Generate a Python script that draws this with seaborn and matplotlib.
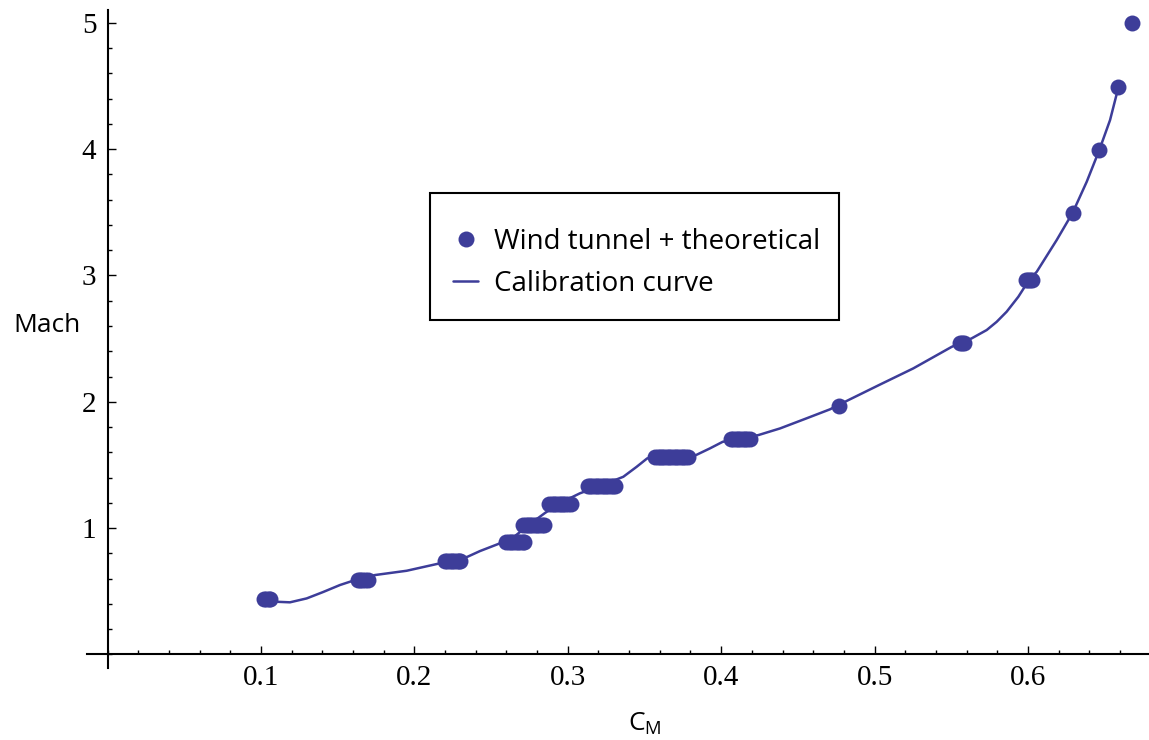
import matplotlib
matplotlib.use("Agg")
import matplotlib.pyplot as plt
from matplotlib.lines import Line2D
from matplotlib.patches import Rectangle
from matplotlib.ticker import FixedLocator, MultipleLocator
import pandas as pd
import seaborn as sns

# Calibration runs: each group shares one Mach number, with several C_M readings
run_mach = [0.438, 0.588, 0.739, 0.892, 1.028, 1.194, 1.336, 1.560,
            1.705, 1.966, 2.462, 2.964, 3.496, 3.993, 4.494, 4.996]
run_cm = [
    [0.102, 0.1035, 0.105, 0.106],
    [0.163, 0.1645, 0.166, 0.1675, 0.1695],
    [0.220, 0.2215, 0.223, 0.2245, 0.226, 0.2275, 0.229, 0.230],
    [0.260, 0.2615, 0.263, 0.2645, 0.266, 0.2675, 0.269, 0.2705, 0.2715],
    [0.271, 0.2725, 0.274, 0.2755, 0.277, 0.2785, 0.280, 0.2815, 0.283, 0.2845],
    [0.288, 0.2895, 0.291, 0.2925, 0.294, 0.2955, 0.297, 0.2985, 0.300, 0.302],
    [0.313, 0.3145, 0.316, 0.3175, 0.319, 0.3205, 0.322, 0.3235, 0.325,
     0.3265, 0.328, 0.3295, 0.331],
    [0.357, 0.3585, 0.360, 0.3615, 0.363, 0.3645, 0.366, 0.3675, 0.369,
     0.3705, 0.372, 0.3735, 0.375, 0.3765, 0.3785],
    [0.4065, 0.408, 0.4095, 0.411, 0.4125, 0.414, 0.4155, 0.417, 0.4185],
    [0.4768],
    [0.5557, 0.557, 0.5583],
    [0.5987, 0.600, 0.6013, 0.6026],
    [0.6291],
    [0.6465],
    [0.6585],
    [0.6676],
]

# Calibration curve samples (C_M, Mach)
curve_cm = [0.1026, 0.1111, 0.1189, 0.1298, 0.1404, 0.1515, 0.1600, 0.1743,
            0.1950, 0.2145, 0.2245, 0.2347, 0.2428, 0.2545, 0.2656, 0.2754,
            0.2851, 0.2949, 0.3079, 0.3209, 0.3362, 0.3449, 0.3518, 0.3666,
            0.3836, 0.3927, 0.4010, 0.4122, 0.4242, 0.4384, 0.4557, 0.4709,
            0.4829, 0.5035, 0.5252, 0.5503, 0.5633, 0.5731, 0.5796, 0.5861,
            0.5937, 0.6007, 0.6057, 0.6187, 0.6291, 0.6383, 0.6465, 0.6535,
            0.6585, 0.6593]
curve_mach = [0.438, 0.416, 0.412, 0.443, 0.493, 0.549, 0.583, 0.628,
              0.662, 0.715, 0.739, 0.773, 0.818, 0.873, 0.937, 1.032,
              1.119, 1.198, 1.275, 1.333, 1.406, 1.485, 1.552, 1.560,
              1.578, 1.631, 1.683, 1.705, 1.736, 1.789, 1.869, 1.940,
              2.013, 2.136, 2.264, 2.435, 2.502, 2.568, 2.633, 2.713,
              2.831, 2.964, 3.029, 3.280, 3.496, 3.742, 3.993, 4.230,
              4.468, 4.494]

x_major = [0.1, 0.2, 0.3, 0.4, 0.5, 0.6]
x_labels = ["0.1", "0.2", "0.3", "0.4", "0.5", "0.6"]
y_major = [1, 2, 3, 4, 5]
y_labels = ["1", "2", "3", "4", "5"]

legend_labels = ["Wind tunnel + theoretical", "Calibration curve"]

BLUE = "#3d3d99"

points = pd.DataFrame(
    [(cm, m) for m, cms in zip(run_mach, run_cm) for cm in cms],
    columns=["cm", "mach"],
)
curve = pd.DataFrame({"cm": curve_cm, "mach": curve_mach})

sns.set_style("white")
plt.rcParams["font.family"] = ["Open Sans", "DejaVu Sans"]
plt.rcParams["mathtext.fontset"] = "custom"
plt.rcParams["mathtext.rm"] = "Open Sans"
plt.rcParams["mathtext.it"] = "Open Sans"
for key in ("text.color", "axes.labelcolor", "xtick.color", "ytick.color"):
    plt.rcParams[key] = "black"

W, H = 1149, 740
fig = plt.figure(figsize=(W / 100, H / 100), dpi=100)
ax = fig.add_axes([87 / W, 72 / H, 1062 / W, 658 / H])

sns.lineplot(data=curve, x="cm", y="mach", sort=False, estimator=None,
             color=BLUE, linewidth=1.8, ax=ax, legend=False, zorder=2)
sns.scatterplot(data=points, x="cm", y="mach", s=132, color=BLUE,
                linewidth=0, ax=ax, legend=False, zorder=3)

ax.set_xlim(-0.0134, 0.6789)
ax.set_ylim(-0.108, 5.102)

for side in ("top", "right"):
    ax.spines[side].set_visible(False)
ax.spines["left"].set_position(("data", 0))
ax.spines["bottom"].set_position(("data", 0))
for side in ("left", "bottom"):
    ax.spines[side].set_linewidth(1.5)
    ax.spines[side].set_color("black")

ax.xaxis.set_major_locator(FixedLocator(x_major))
ax.set_xticklabels(x_labels)
ax.xaxis.set_minor_locator(MultipleLocator(0.02))
ax.yaxis.set_major_locator(FixedLocator(y_major))
ax.set_yticklabels(y_labels)
ax.yaxis.set_minor_locator(MultipleLocator(0.2))

ax.tick_params(which="both", bottom=True, left=True, direction="in",
               color="black", width=1.0, labelcolor="black",
               labelsize=21, labelfontfamily="Liberation Serif")
ax.tick_params(which="major", length=6)
ax.tick_params(which="minor", length=3.2)
ax.tick_params(axis="x", which="major", pad=8)
ax.tick_params(axis="y", which="major", pad=8)

ax.set_ylabel("Mach", rotation=0, fontsize=19, ha="center", va="center")
ax.yaxis.set_label_coords((46.5 - 87) / 1062, (668 - 325) / 658)
ax.set_xlabel(r"$\mathrm{C}_\mathrm{M}$", fontsize=19, va="center")
ax.xaxis.set_label_coords((645 - 87) / 1062, (668 - 724) / 658)

# Legend frame as a separate box, entries placed inside it
ax.add_patch(Rectangle((430 / W, 1 - 320 / H), 409 / W, 127 / H,
                       transform=fig.transFigure, clip_on=False, fill=True,
                       facecolor="white", edgecolor="black",
                       linewidth=1.5, zorder=4))
handles = [
    Line2D([], [], marker="o", linestyle="", color=BLUE, markersize=11.5,
           markeredgewidth=0),
    Line2D([], [], color=BLUE, linewidth=1.8),
]
leg = ax.legend(handles, legend_labels, loc="upper left",
                bbox_to_anchor=(453 / W, 1 - 228 / H),
                bbox_transform=fig.transFigure, frameon=False,
                fontsize=20, labelcolor="black", borderpad=0,
                labelspacing=0.5, handlelength=0.9, handletextpad=0.58,
                borderaxespad=0)
leg.set_zorder(5)

fig.savefig("out.png", dpi=100, facecolor="white")
